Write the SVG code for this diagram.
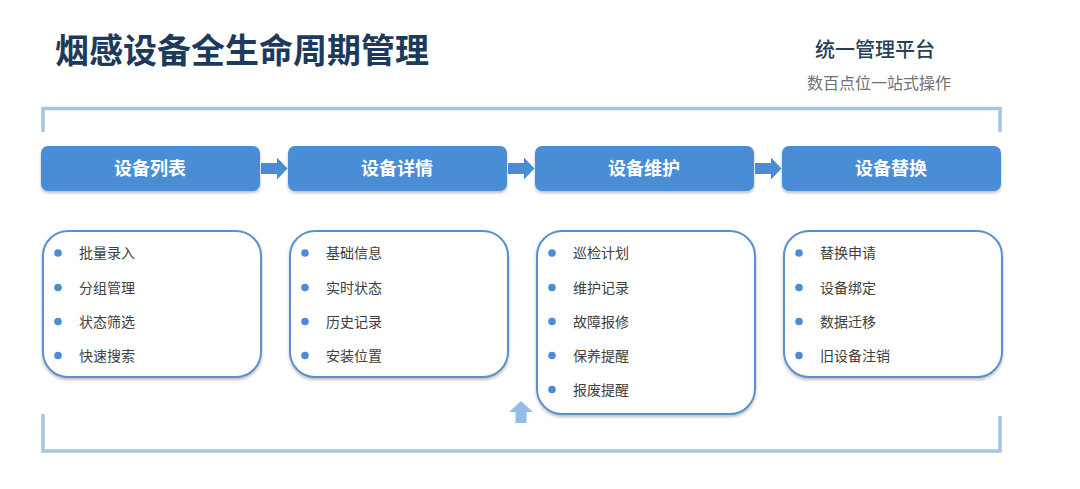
<svg xmlns="http://www.w3.org/2000/svg" width="1080" height="489" viewBox="0 0 1080 489">
<defs>
<style>
.title{font-family:"Noto Sans CJK SC","Noto Sans",sans-serif;font-weight:700;font-size:34px;fill:#1d3a5c}
.plat{font-family:"Liberation Serif","Noto Sans CJK SC",serif;font-weight:500;font-size:20px;fill:#2b3f58}
.sub{font-family:"Liberation Serif","Noto Sans CJK SC",serif;font-size:16px;fill:#707070}
.hdr{fill:#4a8dd6}
.htxt{font-family:"Noto Sans CJK SC","Noto Sans",sans-serif;font-weight:700;font-size:18px;fill:#ffffff}
.card{fill:#ffffff;stroke:#5a90cf;stroke-width:2}
.item{font-family:"Noto Sans CJK SC","Noto Sans",sans-serif;font-size:14px;fill:#404040}
.dot{fill:#4a8dd6}
.brk{fill:none;stroke:#a6c4e4;stroke-width:3.5}
.arr{fill:#4a8dd6}
.uparr{fill:#93bde6}
</style>
<filter id="sh" x="-10%" y="-10%" width="120%" height="130%">
<feDropShadow dx="0" dy="2" stdDeviation="1.8" flood-color="#000" flood-opacity="0.25"/>
</filter>
</defs>
<rect width="1080" height="489" fill="#ffffff"/>
<text class="title" x="55" y="63">烟感设备全生命周期管理</text>
<text class="plat" x="875" y="57" text-anchor="middle">统一管理平台</text>
<text class="sub" x="879" y="89" text-anchor="middle">数百点位一站式操作</text>
<g id="brackets">
<path class="brk" d="M43,132 V108.5 H1000 V132"/>
<path class="brk" d="M43,414 V451 H1000 V416"/>
</g>
<g id="connectors">
<path class="arr" d="M261,163 H277 V157.5 L287.5,168.5 L277,179.5 V174 H261 Z"/>
<path class="arr" d="M508,163 H524 V157.5 L534.5,168.5 L524,179.5 V174 H508 Z"/>
<path class="arr" d="M755,163 H771 V157.5 L781.5,168.5 L771,179.5 V174 H755 Z"/>
<path class="uparr" d="M521,401 L533,412 H526.5 V423 H515.5 V412 H509 Z"/>
</g>
<g id="node-list">
<rect class="hdr" x="41" y="146" width="219" height="45" rx="7" filter="url(#sh)"/>
<text class="htxt" x="150" y="174.5" text-anchor="middle">设备列表</text>
<rect class="card" x="43" y="231" width="218" height="146" rx="25" filter="url(#sh)"/>
<circle class="dot" cx="58" cy="253" r="3.8"/><text class="item" x="79" y="258">批量录入</text>
<circle class="dot" cx="58" cy="287.5" r="3.8"/><text class="item" x="79" y="292.5">分组管理</text>
<circle class="dot" cx="58" cy="321.5" r="3.8"/><text class="item" x="79" y="326.5">状态筛选</text>
<circle class="dot" cx="58" cy="355.5" r="3.8"/><text class="item" x="79" y="360.5">快速搜索</text>
</g>
<g id="node-detail">
<rect class="hdr" x="288" y="146" width="219" height="45" rx="7" filter="url(#sh)"/>
<text class="htxt" x="397" y="174.5" text-anchor="middle">设备详情</text>
<rect class="card" x="290" y="231" width="218" height="146" rx="25" filter="url(#sh)"/>
<circle class="dot" cx="305" cy="253" r="3.8"/><text class="item" x="326" y="258">基础信息</text>
<circle class="dot" cx="305" cy="287.5" r="3.8"/><text class="item" x="326" y="292.5">实时状态</text>
<circle class="dot" cx="305" cy="321.5" r="3.8"/><text class="item" x="326" y="326.5">历史记录</text>
<circle class="dot" cx="305" cy="355.5" r="3.8"/><text class="item" x="326" y="360.5">安装位置</text>
</g>
<g id="node-maint">
<rect class="hdr" x="535" y="146" width="219" height="45" rx="7" filter="url(#sh)"/>
<text class="htxt" x="644" y="174.5" text-anchor="middle">设备维护</text>
<rect class="card" x="537" y="231" width="218" height="183" rx="25" filter="url(#sh)"/>
<circle class="dot" cx="552" cy="253" r="3.8"/><text class="item" x="573" y="258">巡检计划</text>
<circle class="dot" cx="552" cy="287.5" r="3.8"/><text class="item" x="573" y="292.5">维护记录</text>
<circle class="dot" cx="552" cy="321.5" r="3.8"/><text class="item" x="573" y="326.5">故障报修</text>
<circle class="dot" cx="552" cy="355.5" r="3.8"/><text class="item" x="573" y="360.5">保养提醒</text>
<circle class="dot" cx="552" cy="389.5" r="3.8"/><text class="item" x="573" y="394.5">报废提醒</text>
</g>
<g id="node-replace">
<rect class="hdr" x="782" y="146" width="219" height="45" rx="7" filter="url(#sh)"/>
<text class="htxt" x="891" y="174.5" text-anchor="middle">设备替换</text>
<rect class="card" x="784" y="231" width="218" height="146" rx="25" filter="url(#sh)"/>
<circle class="dot" cx="799" cy="253" r="3.8"/><text class="item" x="820" y="258">替换申请</text>
<circle class="dot" cx="799" cy="287.5" r="3.8"/><text class="item" x="820" y="292.5">设备绑定</text>
<circle class="dot" cx="799" cy="321.5" r="3.8"/><text class="item" x="820" y="326.5">数据迁移</text>
<circle class="dot" cx="799" cy="355.5" r="3.8"/><text class="item" x="820" y="360.5">旧设备注销</text>
</g>
</svg>
